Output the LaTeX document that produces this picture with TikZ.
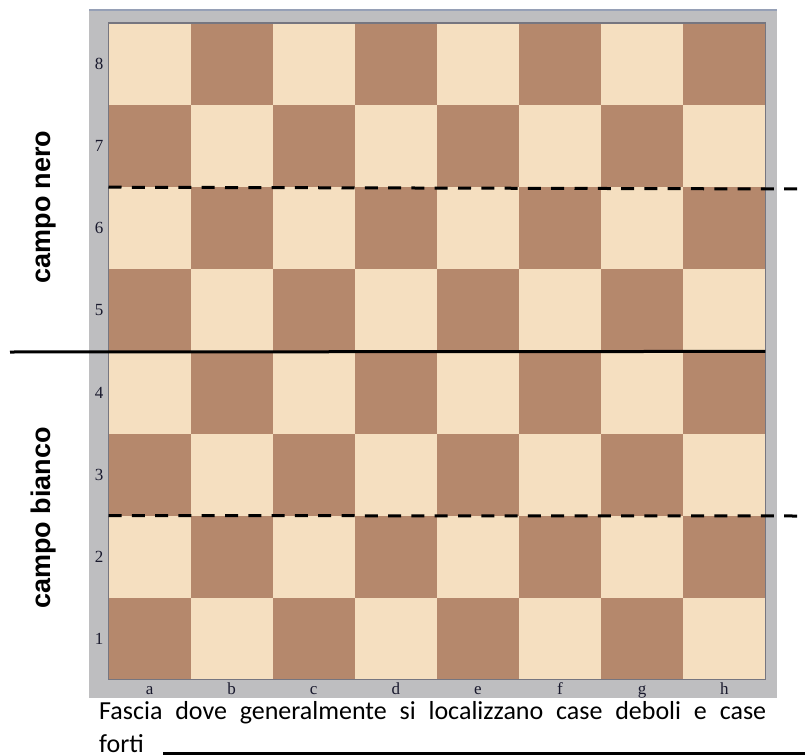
\documentclass[tikz,border=0pt]{standalone}
\usepackage{fontspec}
\setmainfont{Carlito}
\newfontfamily\boardfont{Liberation Serif}
\newfontfamily\sidefont{Liberation Sans}
\usetikzlibrary{positioning}
\definecolor{lightsq}{RGB}{245,223,192}
\definecolor{darksq}{RGB}{181,136,108}
\definecolor{framegray}{RGB}{190,190,192}
\definecolor{frametop}{RGB}{150,160,182}
\definecolor{boardedge}{RGB}{118,118,128}
\definecolor{coordcol}{RGB}{25,25,45}
\tikzset{
  square/.style={rectangle, minimum size=82.1pt, inner sep=0pt, outer sep=0pt, anchor=north west},
  coordlabel/.style={font=\boardfont\fontsize{17}{17}\selectfont, text=coordcol, inner sep=0pt},
  campo/.style={font=\sidefont\bfseries\fontsize{27}{27}\selectfont, rotate=90, anchor=base, inner sep=0pt},
  caption/.style={font=\fontsize{26}{26}\selectfont, anchor=base west, inner sep=0pt, text height=17pt, text depth=0pt},
  split/.style={line width=3pt, black},
  band/.style={line width=3pt, black, dash pattern=on 13pt off 10.3pt}
}
\begin{document}
\begin{tikzpicture}[x=1pt, y=-1pt]
\useasboundingbox (0,0) rectangle (807,755);
\fill[framegray] (89,9) rectangle (777,698);
\draw[frametop, line width=2pt] (89,10) -- (777,10);
\foreach \f in {1,...,8}
  \foreach \r in {1,...,8} {
    \ifodd\numexpr\f+\r\relax \def\sqcol{lightsq}\else\def\sqcol{darksq}\fi
    \node[square, fill=\sqcol] (sq-\f-\r) at ({108.5+(\f-1)*82.1},{23+(8-\r)*82.1}) {};
  }
\draw[boardedge, line width=1.2pt] (sq-1-8.north west) rectangle (sq-8-1.south east);
\foreach \r in {1,...,8}
  \node[coordlabel, left=5pt of sq-1-\r.west] (rank-\r) {\r};
\begin{scope}
\clip (89,9) rectangle (777,698);
\foreach \f/\l in {1/a,2/b,3/c,4/d,5/e,6/f,7/g,8/h}
  \node[coordlabel, anchor=base, text depth=0pt] (file-\f) at ([yshift=-15pt]sq-\f-1.south) {\l};
\end{scope}
\node[campo] (nero) at (50,207) {campo nero};
\node[campo] (bianco) at (50,518) {campo bianco};
\coordinate (splitL) at (10,352);
\coordinate (bandTop) at (800,189);
\coordinate (bandBot) at (800,516);
\draw[split] (splitL) -- (sq-8-5.south east);
\draw[band] (sq-1-7.south west) -- (bandTop);
\draw[band] (sq-1-3.south west) -- (bandBot);
\node[caption] (fascia) at (99,719) {\makebox[667pt][s]{Fascia dove generalmente si localizzano case deboli e case}};
\node[caption] (forti) at (99,752) {forti};
\coordinate (ruleL) at (163,753);
\coordinate (ruleR) at (805,753);
\draw[split] (ruleL) -- (ruleR);
\end{tikzpicture}
\end{document}
